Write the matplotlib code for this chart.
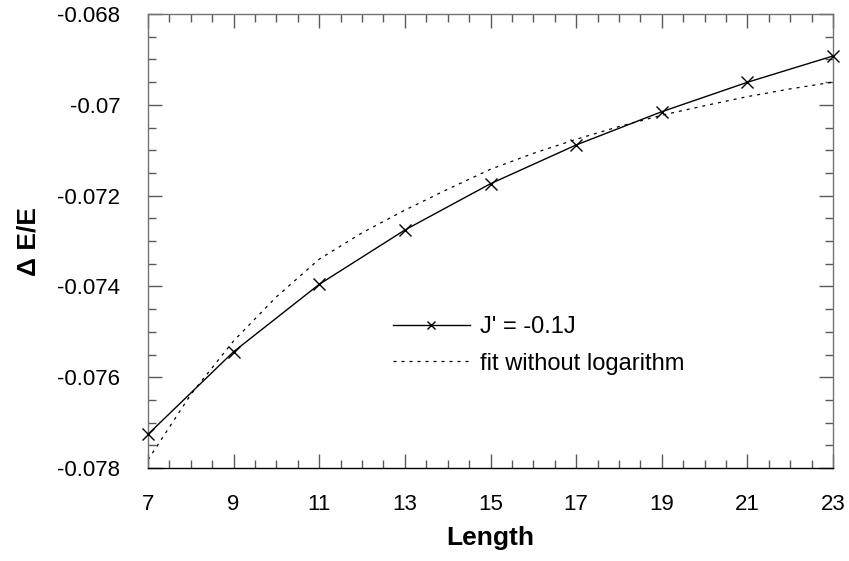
import matplotlib
matplotlib.use("Agg")
import matplotlib.pyplot as plt
from matplotlib.ticker import MultipleLocator, FuncFormatter

plt.rcParams['font.family'] = ['Liberation Sans', 'DejaVu Sans']

# Data
lengths = [7, 9, 11, 13, 15, 17, 19, 21, 23]
dE_E = [-0.077258, -0.075438, -0.073954, -0.072758, -0.071738,
        -0.070885, -0.070152, -0.069504, -0.068925]

fit_lengths = [7, 8, 9, 10, 11, 12, 13, 14, 15, 16, 17, 18, 19, 20, 21, 22, 23]
fit_values = [-0.07782, -0.07638, -0.07520, -0.07423, -0.07340, -0.07282,
              -0.07232, -0.07186, -0.07142, -0.07107, -0.07076, -0.07048,
              -0.07023, -0.07002, -0.06982, -0.06965, -0.06950]

series_label = "J' = -0.1J"
fit_label = "fit without logarithm"
x_label = "Length"
y_label = "\u0394 E/E"
x_ticks = [7, 9, 11, 13, 15, 17, 19, 21, 23]
y_ticks = [-0.078, -0.076, -0.074, -0.072, -0.07, -0.068]

fig = plt.figure(figsize=(8.49, 5.61), dpi=100)
ax = fig.add_axes([148/849, 1 - 468/561, (833-148)/849, (468-14)/561])

ax.plot(lengths, dE_E, color='black', lw=1.0, marker='x', markersize=8,
        markeredgewidth=1.0, label=series_label, clip_on=False, zorder=3)
ax.plot(fit_lengths, fit_values, color='black', lw=0.9, dashes=(2.4, 4.0),
        label=fit_label, zorder=2)

ax.set_xlim(7, 23)
ax.set_ylim(-0.078, -0.068)
ax.set_xticks(x_ticks)
ax.set_yticks(y_ticks)
ax.xaxis.set_minor_locator(MultipleLocator(0.5))
ax.yaxis.set_minor_locator(MultipleLocator(0.0005))
ax.yaxis.set_major_formatter(FuncFormatter(lambda v, p: ('%g' % round(v, 4))))

ax.tick_params(which='both', direction='in', top=True, right=True,
               color='0.35', width=1.0)
ax.tick_params(which='major', length=10, labelsize=16)
ax.tick_params(which='minor', length=5.5)
ax.tick_params(axis='x', which='major', pad=19)
ax.tick_params(axis='y', which='major', pad=20)

for side in ['left', 'top', 'right']:
    ax.spines[side].set_color('0.45')
    ax.spines[side].set_linewidth(1.0)
ax.spines['bottom'].set_color('black')
ax.spines['bottom'].set_linewidth(1.0)

ax.set_xlabel(x_label, fontsize=19, fontweight='bold', labelpad=8)
ax.set_ylabel(y_label, fontsize=19, fontweight='bold', labelpad=12)

leg = ax.legend(loc='center left',
                bbox_to_anchor=((393-148)/685, (468-345.5)/454),
                frameon=False, fontsize=17, handlelength=3.26,
                handletextpad=0.42, labelspacing=0.6, borderpad=0,
                borderaxespad=0, markerscale=0.7, numpoints=1)

fig.savefig('out.png', dpi=100)
